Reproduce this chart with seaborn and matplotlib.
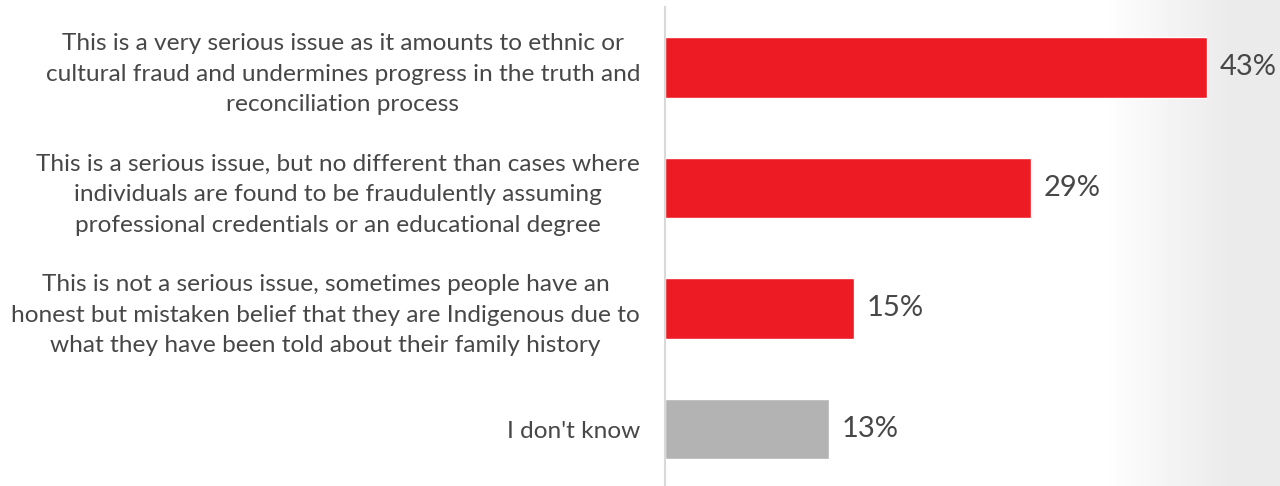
import numpy as np
import pandas as pd
import matplotlib
matplotlib.use("Agg")
import matplotlib.pyplot as plt
import seaborn as sns

responses = [
    "This is a very serious issue as it amounts to ethnic or\ncultural fraud and undermines progress in the truth and\nreconciliation process",
    "This is a serious issue, but no different than cases where\nindividuals are found to be fraudulently assuming\nprofessional credentials or an educational degree",
    "This is not a serious issue, sometimes people have an\nhonest but mistaken belief that they are Indigenous due to\nwhat they have been told about their family history",
    "I don't know",
]
shares = [43, 29, 15, 13]
bar_colors = ["#ED1C24", "#ED1C24", "#ED1C24", "#B3B3B3"]

df = pd.DataFrame({"response": responses, "share": shares})

sns.set_theme(style="white")
plt.rcParams["font.family"] = ["Lato", "DejaVu Sans"]

fig = plt.figure(figsize=(12.8, 4.86), dpi=100)

# soft grey wash on the right side of the canvas
bg = fig.add_axes([0, 0, 1, 1], zorder=0)
xs = np.linspace(0, 1, 400)
ramp = np.clip((xs - 0.86) / 0.10, 0, 1)
shade = 1 - 0.08 * ramp
img = np.tile(shade, (50, 1))
bg.imshow(img, cmap="gray", vmin=0, vmax=1, aspect="auto", extent=[0, 1, 0, 1])
bg.set_axis_off()

ax = fig.add_axes([665 / 1280, 0, 1 - 665 / 1280, 1 - 7 / 486], zorder=1)
ax.patch.set_alpha(0)
sns.barplot(data=df, x="share", y="response", hue="response",
            palette=bar_colors, width=0.506, legend=False, ax=ax,
            saturation=1)

ax.set_xlim(0, 43 * 615 / 542)
ax.set_ylim(3.473, -0.502)
ax.set_xlabel("")
ax.set_ylabel("")
ax.set_xticks([])
for s in ["top", "right", "bottom"]:
    ax.spines[s].set_visible(False)
ax.spines["left"].set_color("#D9D9D9")
ax.spines["left"].set_linewidth(1.5)

ax.tick_params(axis="y", length=0, pad=18, labelsize=17.6, labelcolor="#474747")
for lab in ax.get_yticklabels():
    lab.set_multialignment("center")
    lab.set_linespacing(1.55)

for i, v in enumerate(shares):
    ax.text(v + 1.0, i, f"{v}%", va="center", ha="left",
            fontsize=21, color="#474747")

fig.savefig("out.png", dpi=100)
